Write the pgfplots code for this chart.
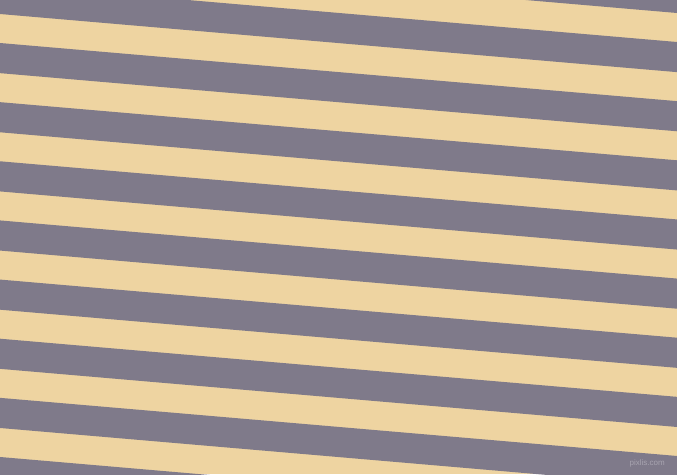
\documentclass[border=0pt]{standalone}
\usepackage{fontspec}
\setmainfont{Liberation Sans}
\usepackage{pgfplots}
\pgfplotsset{compat=1.18}
\definecolor{stripegray}{RGB}{127,122,138}
\definecolor{stripebeige}{RGB}{238,212,161}
\definecolor{wm}{RGB}{168,164,176}
\begin{document}
\begin{tikzpicture}
\begin{axis}[
  scale only axis, width=677pt, height=474pt,
  xmin=0, xmax=677, ymin=0, ymax=474, y dir=reverse,
  hide axis, clip=true,
]
\addplot[fill=stripebeige, draw=none] coordinates {(0,0) (677,0) (677,474) (0,474)} -- cycle;
\addplot[fill=stripegray, draw=none] coordinates {(0,-75.28) (677,-17.14) (677,13.00) (0,-45.14)} -- cycle;
\addplot[fill=stripegray, draw=none] coordinates {(0,-16.14) (677,42.00) (677,72.14) (0,14.00)} -- cycle;
\addplot[fill=stripegray, draw=none] coordinates {(0,43.00) (677,101.14) (677,131.28) (0,73.14)} -- cycle;
\addplot[fill=stripegray, draw=none] coordinates {(0,102.14) (677,160.28) (677,190.42) (0,132.28)} -- cycle;
\addplot[fill=stripegray, draw=none] coordinates {(0,161.28) (677,219.42) (677,249.56) (0,191.42)} -- cycle;
\addplot[fill=stripegray, draw=none] coordinates {(0,220.42) (677,278.56) (677,308.70) (0,250.56)} -- cycle;
\addplot[fill=stripegray, draw=none] coordinates {(0,279.56) (677,337.70) (677,367.84) (0,309.70)} -- cycle;
\addplot[fill=stripegray, draw=none] coordinates {(0,338.70) (677,396.84) (677,426.98) (0,368.84)} -- cycle;
\addplot[fill=stripegray, draw=none] coordinates {(0,397.84) (677,455.98) (677,486.12) (0,427.98)} -- cycle;
\addplot[fill=stripegray, draw=none] coordinates {(0,456.98) (677,515.12) (677,545.26) (0,487.12)} -- cycle;
\node[text=wm, font=\fontsize{8}{9}\selectfont, anchor=east, inner sep=0pt] at (axis cs:665,463) {pixlis.com};
\end{axis}
\end{tikzpicture}
\end{document}
